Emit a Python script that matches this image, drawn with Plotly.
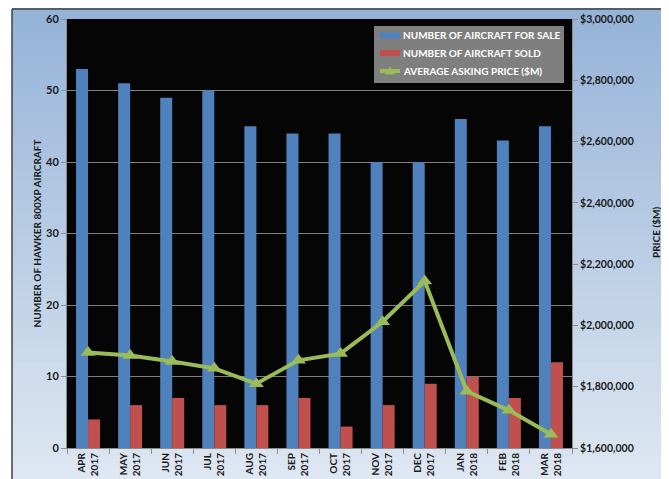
import plotly.graph_objects as go

months = ["APR<br>2017", "MAY<br>2017", "JUN<br>2017", "JUL<br>2017", "AUG<br>2017", "SEP<br>2017",
          "OCT<br>2017", "NOV<br>2017", "DEC<br>2017", "JAN<br>2018", "FEB<br>2018", "MAR<br>2018"]
for_sale = [53, 51, 49, 50, 45, 44, 44, 40, 40, 46, 43, 45]
sold = [4, 6, 7, 6, 6, 7, 3, 6, 9, 10, 7, 12]
price = [1912000, 1902000, 1882000, 1860000, 1810000, 1886000,
         1908000, 2012000, 2145000, 1785000, 1723000, 1645000]
legend_labels = ["NUMBER OF AIRCRAFT FOR SALE", "NUMBER OF AIRCRAFT SOLD", "AVERAGE ASKING PRICE ($M)"]

FONT = "Lato"
TXT = "#1a1a1a"
BLUE, RED, GREEN = "#4F81BD", "#C0504D", "#9BBB59"

fig = go.Figure()
fig.add_trace(go.Bar(x=months, y=for_sale, name=legend_labels[0],
                     marker=dict(color=BLUE, line=dict(width=0))))
fig.add_trace(go.Bar(x=months, y=sold, name=legend_labels[1],
                     marker=dict(color=RED, line=dict(width=0))))
fig.add_trace(go.Scatter(x=months, y=price, name=legend_labels[2], yaxis="y2",
                         mode="lines+markers",
                         line=dict(color=GREEN, width=4),
                         marker=dict(symbol="triangle-up", size=13, color=GREEN)))

# figure geometry (page body adds 8px offset)
W, H = 661, 471
ML, MR, MT, MB = 59, 97, 11, 31
PW, PH = W - ML - MR, H - MT - MB

def px(x):  # window x -> paper x
    return (x - 8 - ML) / PW

def py(y):  # window y -> paper y
    return 1 - (y - 8 - MT) / PH

shapes = []
# gradient background strips
n = 60
y_lo, y_hi = py(480), py(8)
top = (149, 179, 215)
bot = (222, 231, 242)
for i in range(n):
    t = i / (n - 1)
    c = tuple(int(round(top[k] + (bot[k] - top[k]) * t)) for k in range(3))
    y1 = y_hi - (y_hi - y_lo) * i / n
    y0 = y_hi - (y_hi - y_lo) * (i + 1) / n
    shapes.append(dict(type="rect", xref="paper", yref="paper", x0=px(12), x1=px(680),
                       y0=y0 - 0.002, y1=y1, fillcolor="rgb(%d,%d,%d)" % c,
                       line=dict(width=0), layer="below"))
# plot area black
shapes.append(dict(type="rect", xref="paper", yref="paper", x0=0, x1=1, y0=0, y1=1,
                   fillcolor="#050505", line=dict(width=0), layer="below"))
# outer frame lines (left and top)
shapes.append(dict(type="line", xref="paper", yref="paper", x0=px(12), x1=px(12),
                   y0=py(490), y1=py(9), line=dict(color="#404040", width=1.5)))
shapes.append(dict(type="line", xref="paper", yref="paper", x0=px(12), x1=px(690),
                   y0=py(9), y1=py(9), line=dict(color="#404040", width=1.5)))

# custom legend
shapes.append(dict(type="rect", xref="paper", yref="paper", x0=px(374), x1=px(564),
                   y0=py(83), y1=py(26), fillcolor="#7f7f7f", line=dict(width=0)))
row_y = [35.5, 53, 71]
shapes.append(dict(type="rect", xref="paper", yref="paper", x0=px(380), x1=px(400),
                   y0=py(row_y[0] + 3), y1=py(row_y[0] - 3), fillcolor=BLUE, line=dict(width=0)))
shapes.append(dict(type="rect", xref="paper", yref="paper", x0=px(380), x1=px(400),
                   y0=py(row_y[1] + 3), y1=py(row_y[1] - 3), fillcolor=RED, line=dict(width=0)))
shapes.append(dict(type="line", xref="paper", yref="paper", x0=px(380), x1=px(400),
                   y0=py(row_y[2]), y1=py(row_y[2]), line=dict(color=GREEN, width=4)))
shapes.append(dict(type="path", xref="paper", yref="paper",
                   path="M %f,%f L %f,%f L %f,%f Z" % (px(385), py(row_y[2] + 3.5), px(390), py(row_y[2] - 4.5),
                                                     px(395), py(row_y[2] + 3.5)),
                   fillcolor=GREEN, line=dict(width=0)))
annotations = []
for lab, ry in zip(legend_labels, row_y):
    annotations.append(dict(xref="paper", yref="paper", x=px(401), y=py(ry), text=lab,
                            xanchor="left", yanchor="middle", showarrow=False,
                            font=dict(family=FONT, size=10, color="white", weight="bold")))
# right axis title
annotations.append(dict(xref="paper", yref="paper", x=px(656), y=py(233), text="PRICE ($M)",
                        textangle=-90, xanchor="center", yanchor="middle", showarrow=False,
                        font=dict(family=FONT, size=10, color=TXT, weight="bold")))

fig.update_layout(
    width=W, height=H,
    margin=dict(l=ML, r=MR, t=MT, b=MB, autoexpand=False),
    paper_bgcolor="white",
    plot_bgcolor="rgba(0,0,0,0)",
    barmode="group", bargap=0.43, bargroupgap=0,
    shapes=shapes, annotations=annotations,
    showlegend=False,
    font=dict(family=FONT, color=TXT),
    xaxis=dict(tickangle=-90, automargin=False, range=[-0.5, len(months) - 0.5],
               tickfont=dict(family=FONT, size=10, color=TXT, weight="bold"),
               ticks="outside", ticklen=5, tickcolor="#8c8c8c", tickson="boundaries",
               showline=True, linecolor="#8c8c8c", linewidth=1, showgrid=False),
    yaxis=dict(range=[0, 60], dtick=10, showgrid=True, gridcolor="#7f7f7f", gridwidth=1,
               automargin=False,
               zeroline=False, ticks="outside", ticklen=5, tickcolor="#8c8c8c",
               showline=True, linecolor="#8c8c8c",
               tickfont=dict(family=FONT, size=11, color=TXT, weight="bold"),
               title=dict(text="NUMBER OF HAWKER 800XP AIRCRAFT", standoff=2,
                          font=dict(family=FONT, size=10, color=TXT, weight="bold"))),
    yaxis2=dict(range=[1600000, 3000000], dtick=200000, overlaying="y", side="right",
                automargin=False,
                showgrid=False, zeroline=False, tickformat="$,.0f",
                ticks="outside", ticklen=5, tickcolor="#8c8c8c",
                showline=True, linecolor="#8c8c8c",
                tickfont=dict(family=FONT, size=10.5, color=TXT, weight="bold")),
)

fig.write_html("out.html")
